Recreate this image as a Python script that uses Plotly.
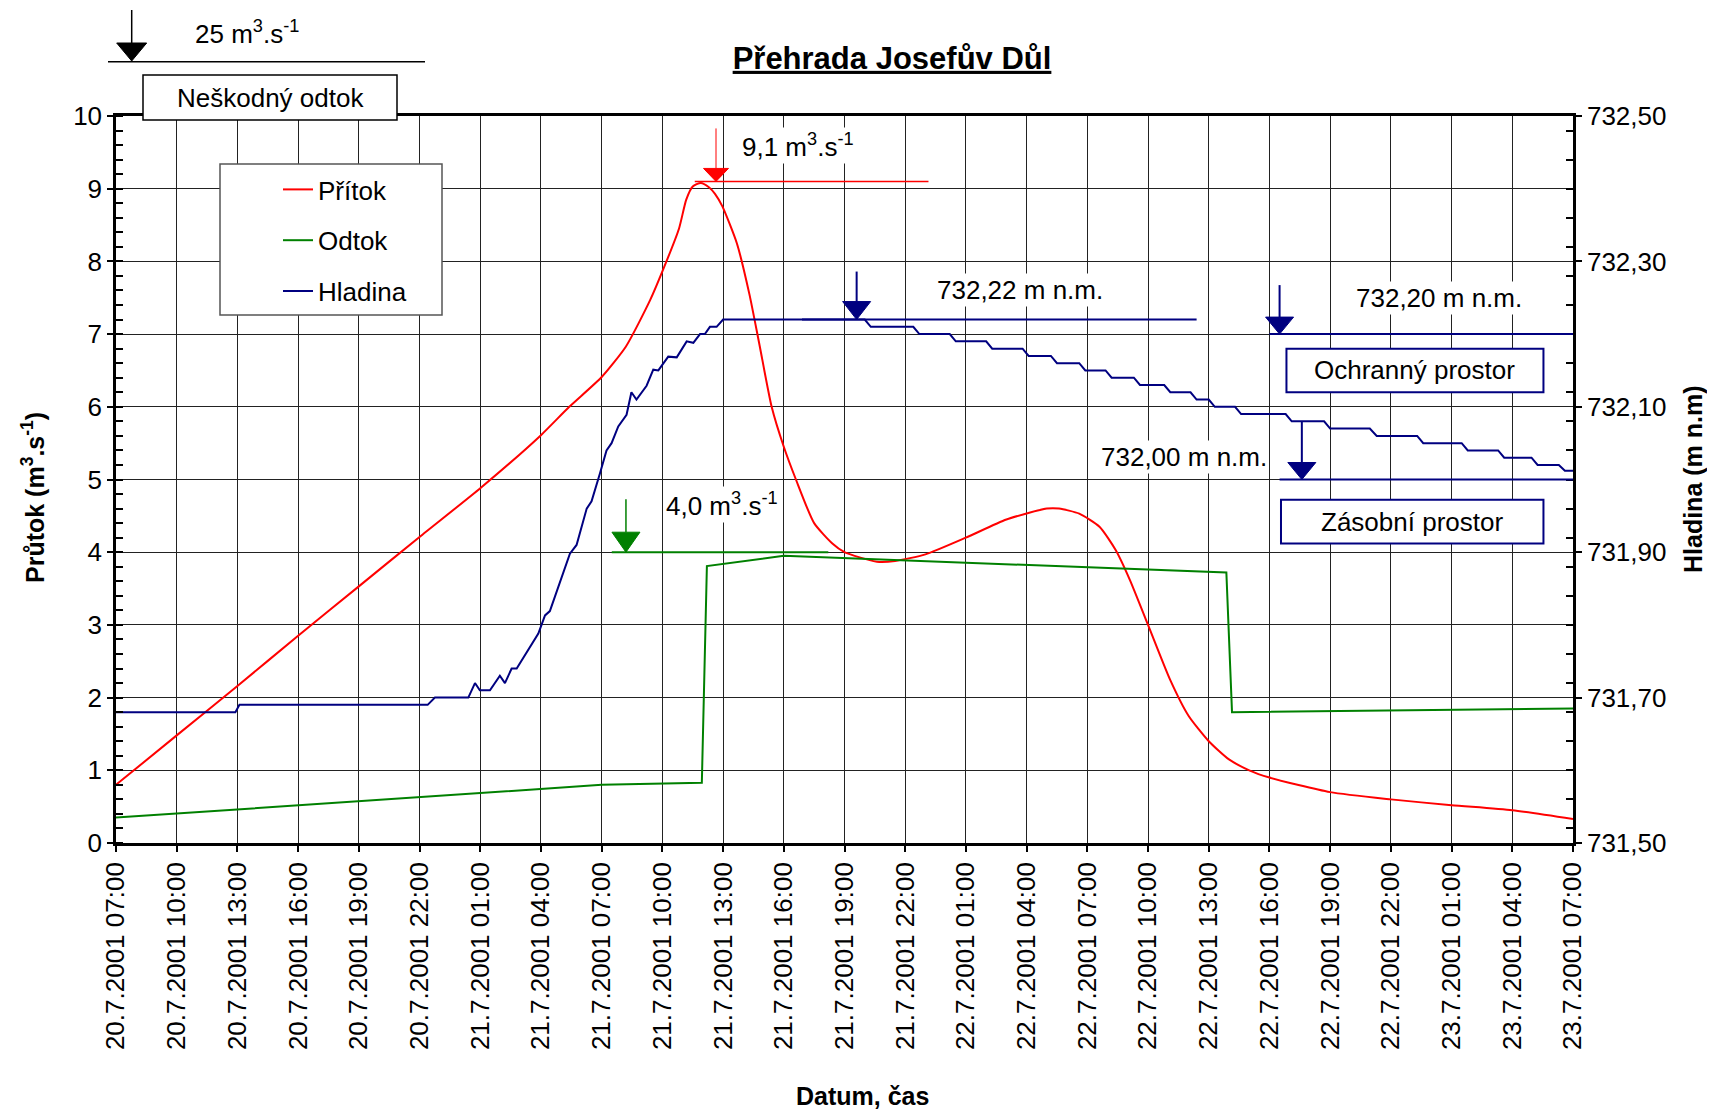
import plotly.graph_objects as go
import pandas as pd

# ---------------- data ----------------
START = pd.Timestamp("2001-07-20 07:00")

# Přítok (inflow) [m3/s], time in hours since 20.7.2001 07:00
pritok_h = [0, 3, 6, 9, 12, 15, 18, 21, 22.4, 24, 25.2, 26.4, 27.1, 27.82, 28.18, 28.5,
            28.9, 29.3, 29.6, 29.96, 30.68, 31.3, 31.8, 32.4, 33.0, 33.6, 34.5, 35.4,
            36.0, 36.5, 37.6, 38.5, 40, 42, 44, 46, 46.6, 47.6, 48.6, 49.4, 50.1, 51.0,
            52.1, 53, 54, 55, 56, 57, 60, 63, 66, 69, 72]
pritok_q = [0.80, 1.48, 2.16, 2.85, 3.53, 4.21, 4.88, 5.61, 6.0, 6.41, 6.83, 7.47, 7.93, 8.45, 8.85, 9.03,
            9.08, 9.02, 8.93, 8.76, 8.25, 7.55, 6.85, 6.0, 5.45, 5.0, 4.4, 4.12,
            4.0, 3.95, 3.87, 3.88, 3.97, 4.2, 4.45, 4.6, 4.6, 4.53, 4.35, 4.03, 3.62, 3.0,
            2.24, 1.75, 1.4, 1.15, 1.0, 0.9, 0.7, 0.6, 0.52, 0.45, 0.33]

# Odtok (outflow) [m3/s]
odtok_h = [0, 24, 28.95, 29.2, 33, 54.87, 55.15, 72]
odtok_q = [0.35, 0.80, 0.83, 3.81, 3.95, 3.72, 1.80, 1.85]

# Hladina (water level) [m n.m.]
hladina_h = [0, 5.9, 6.1, 15.4, 15.76, 17.41, 17.74, 17.98, 18.48, 18.97, 19.22, 19.55, 19.8,
             20.87, 21.2, 21.44, 22.43, 22.76, 23.26, 23.5, 23.91, 24.24, 24.49, 24.82,
             25.23, 25.47, 25.72, 26.22, 26.55, 26.8, 27.29, 27.71, 28.2, 28.53, 28.86,
             29.1, 29.35, 29.68, 30.0, 37.0, 37.3, 39.4, 39.7, 41.2, 41.5, 43.0, 43.3,
             44.8, 45.1, 46.2, 46.5, 47.6, 47.9, 48.9, 49.2, 50.3, 50.6, 51.8, 52.1,
             53.1, 53.4, 54.0, 54.3, 55.3, 55.6, 57.8, 58.1, 59.7, 60.0, 61.96, 62.3,
             64.3, 64.6, 66.5, 66.8, 68.3, 68.6, 69.95, 70.25, 71.3, 71.6, 72]
hladina_m = [731.68, 731.68, 731.69, 731.69, 731.70, 731.70, 731.72, 731.71, 731.71, 731.73, 731.72, 731.74, 731.74,
             731.788, 731.813, 731.819, 731.898, 731.91, 731.96, 731.97, 732.008, 732.04, 732.05, 732.073,
             732.089, 732.12, 732.11, 732.129, 732.151, 732.15, 732.169, 732.168, 732.19, 732.188, 732.20,
             732.20, 732.21, 732.21, 732.22, 732.22, 732.21, 732.21, 732.20, 732.20, 732.19, 732.19, 732.18,
             732.18, 732.17, 732.17, 732.16, 732.16, 732.15, 732.15, 732.14, 732.14, 732.13, 732.13, 732.12,
             732.12, 732.11, 732.11, 732.10, 732.10, 732.09, 732.09, 732.08, 732.08, 732.07, 732.07, 732.06,
             732.06, 732.05, 732.05, 732.04, 732.04, 732.03, 732.03, 732.02, 732.02, 732.012, 732.012]

# key values marked on the chart
NESKODNY = 25          # m3/s
PEAK_IN = 9.1          # m3/s
PEAK_OUT = 4.0         # m3/s
MAX_LEVEL = 732.22     # m n.m.
OCHRANNY_LEVEL = 732.20
ZASOBNI_LEVEL = 732.00

# ---------------- layout geometry (page pixels) ----------------
OFF = 8                       # default page body margin
W, H = 1715 - 2 * OFF, 1112 - OFF
PL, PR, PT, PB = 116, 1573, 116, 843   # plot area on the page
PW, PH = PR - PL, PB - PT
ML, MT = PL - OFF, PT - OFF
MR = W - (PR - OFF)
MB = H - (PB - OFF)
FONT = "Liberation Sans, Arial, sans-serif"
FS = 26
NAVY, RED, GREEN = "#000080", "#FF0000", "#008000"


def t(h):
    return (START + pd.Timedelta(hours=h)).strftime("%Y-%m-%d %H:%M:%S")


def px(p):
    return (p - PL) / PW


def py(p):
    return (PB - p) / PH


fig = go.Figure()
fig.add_trace(go.Scatter(x=[t(h) for h in pritok_h], y=pritok_q, name="Přítok", mode="lines",
                         line=dict(color=RED, width=2, shape="spline", smoothing=0.6),
                         legendgroup="a", yaxis="y"))
fig.add_trace(go.Scatter(x=[t(h) for h in odtok_h], y=odtok_q, name="Odtok", mode="lines",
                         line=dict(color=GREEN, width=2), legendgroup="b", yaxis="y"))
fig.add_trace(go.Scatter(x=[t(h) for h in hladina_h], y=hladina_m, name="Hladina", mode="lines",
                         line=dict(color=NAVY, width=2), legendgroup="c", yaxis="y2"))

shapes = []
annotations = []


def arrow(xref, x, yref, y, shaft, head_h, head_w, color, lw):
    shapes.append(dict(type="line", xref=xref, yref=yref, xsizemode="pixel", ysizemode="pixel",
                       xanchor=x, yanchor=y, x0=0, x1=0, y0=head_h, y1=shaft,
                       line=dict(color=color, width=lw), layer="above"))
    shapes.append(dict(type="path", xref=xref, yref=yref, xsizemode="pixel", ysizemode="pixel",
                       xanchor=x, yanchor=y,
                       path=f"M {-head_w / 2},{head_h} L {head_w / 2},{head_h} L 0,0 Z",
                       fillcolor=color, line=dict(color=color, width=1), layer="above"))


def hline(xref, x0, x1, yref, y, color, lw):
    shapes.append(dict(type="line", xref=xref, yref=yref, x0=x0, x1=x1, y0=y, y1=y,
                       line=dict(color=color, width=lw), layer="above"))


def box(xref, x0, x1, yref, y0, y1, color, lw):
    shapes.append(dict(type="rect", xref=xref, yref=yref, x0=x0, x1=x1, y0=y0, y1=y1,
                       line=dict(color=color, width=lw), fillcolor="white", layer="above"))


def label(xref, x, yref, y, text, bg=True, size=FS, angle=0):
    annotations.append(dict(xref=xref, yref=yref, x=x, y=y, text=text, showarrow=False,
                            font=dict(family=FONT, size=size, color="black"),
                            bgcolor="white" if bg else "rgba(0,0,0,0)", textangle=angle,
                            xanchor="center", yanchor="middle"))


# legend frame
box("paper", px(220), px(442), "paper", py(315), py(164), "#555555", 1.5)

# harmless outflow (top left, outside the plot)
hline("paper", px(108), px(425), "paper", py(61.7), "black", 1.5)
arrow("paper", px(131.7), "paper", py(61), 51, 18, 30, "black", 1.5)
label("paper", px(247), "paper", py(32), f"{NESKODNY} m<sup>3</sup>.s<sup>-1</sup>", bg=False)
box("paper", px(143), px(397), "paper", py(120), py(75), "black", 1.5)
label("paper", px(270), "paper", py(97.5), "Neškodný odtok", bg=False)

# peak inflow
hline("x", t(28.6), t(40.15), "y", PEAK_IN, RED, 1.5)
arrow("x", t(29.65), "y", PEAK_IN, 53, 13, 25, RED, 1)
label("x", t(33.7), "y", 9.59, f"{str(PEAK_IN).replace('.', ',')} m<sup>3</sup>.s<sup>-1</sup>")

# peak outflow
hline("x", t(24.5), t(35.2), "y", PEAK_OUT, GREEN, 2)
arrow("x", t(25.2), "y", PEAK_OUT, 53, 20, 28, GREEN, 1.5)
label("x", t(29.95), "y", 4.65, f"{str(PEAK_OUT).replace('.', ',')} m<sup>3</sup>.s<sup>-1</sup>")

# max level
hline("x", t(33.9), t(53.4), "y2", MAX_LEVEL, NAVY, 2)
arrow("x", t(36.6), "y2", MAX_LEVEL, 48, 18, 28, NAVY, 2)
label("x", t(44.65), "y2", 732.261, f"{MAX_LEVEL:.2f}".replace(".", ",") + " m n.m.")

# flood-control space limit
hline("x", t(57.0), t(72), "y2", OCHRANNY_LEVEL, NAVY, 2)
arrow("x", t(57.5), "y2", OCHRANNY_LEVEL, 49, 17, 28, NAVY, 2)
label("x", t(65.4), "y2", 732.249, f"{OCHRANNY_LEVEL:.2f}".replace(".", ",") + " m n.m.")
box("x", t(57.84), t(70.54), "y2", 732.12, 732.18, NAVY, 2)
label("x", t(64.19), "y2", 732.15, "Ochranný prostor", bg=False)

# storage space limit
hline("x", t(57.5), t(72), "y2", ZASOBNI_LEVEL, NAVY, 2)
arrow("x", t(58.6), "y2", ZASOBNI_LEVEL, 58, 17, 28, NAVY, 2)
label("x", t(52.8), "y2", 732.031, f"{ZASOBNI_LEVEL:.2f}".replace(".", ",") + " m n.m.")
box("x", t(57.57), t(70.54), "y2", 731.912, 731.972, NAVY, 2)
label("x", t(64.05), "y2", 731.942, "Zásobní prostor", bg=False)

# axis titles
label("paper", px(863), "paper", py(1096), "<b>Datum, čas</b>", bg=False, size=25)
label("paper", px(33), "paper", py(498), "<b>Průtok (m<sup>3</sup>.s<sup>-1</sup>)</b>",
      bg=False, size=25, angle=-90)
label("paper", px(1693), "paper", py(479), "<b>Hladina (m n.m)</b>", bg=False, size=25, angle=-90)

XR = [t(0), t(72)]
XDT = 3 * 3600 * 1000

fig.update_layout(
    width=W, height=H,
    margin=dict(l=ML, r=MR, t=MT, b=MB, autoexpand=False),
    paper_bgcolor="white", plot_bgcolor="white",
    separators=", ",
    font=dict(family=FONT, size=FS, color="black"),
    title=dict(text="<b><u>Přehrada Josefův Důl</u></b>", x=(892 - OFF) / W, xanchor="center",
               y=1 - (58 - OFF) / H, yanchor="middle", font=dict(size=31, family=FONT, color="black")),
    showlegend=True,
    legend=dict(x=px(278), y=py(166), xanchor="left", yanchor="top",
                bgcolor="rgba(0,0,0,0)", borderwidth=0, traceorder="grouped",
                tracegroupgap=14, font=dict(size=FS, family=FONT, color="black")),
    xaxis=dict(type="date", range=XR, tick0=t(0), dtick=XDT,
               tickformat="%-d.%-m.%Y %H:%M", tickangle=-90,
               ticks="outside", ticklen=6, tickwidth=2, tickcolor="black",
               showline=True, linecolor="black", linewidth=2.5, mirror=True,
               showgrid=True, gridcolor="#222222", gridwidth=1, zeroline=False,
               tickfont=dict(size=FS)),
    # inner halves of the crossing major ticks
    xaxis2=dict(type="date", range=XR, tick0=t(0), dtick=XDT, overlaying="x", side="bottom",
                anchor="y", ticks="inside", ticklen=6, tickwidth=2, tickcolor="black",
                showticklabels=False, showline=False, showgrid=False, zeroline=False),
    yaxis=dict(range=[0, 10], dtick=1, tick0=0,
               ticks="outside", ticklen=6, tickwidth=2, tickcolor="black",
               minor=dict(dtick=0.2, ticks="inside", ticklen=7, tickwidth=1.5, tickcolor="black",
                          showgrid=False),
               showline=True, linecolor="black", linewidth=2.5,
               showgrid=True, gridcolor="#222222", gridwidth=1, zeroline=False,
               tickfont=dict(size=FS)),
    yaxis3=dict(range=[0, 10], dtick=1, tick0=0, overlaying="y", side="left", anchor="x",
                ticks="inside", ticklen=10, tickwidth=2, tickcolor="black",
                showticklabels=False, showline=False, showgrid=False, zeroline=False),
    yaxis2=dict(overlaying="y", side="right", range=[731.5, 732.5], dtick=0.2, tick0=731.5,
                tickformat=".2f", anchor="x",
                ticks="outside", ticklen=6, tickwidth=2, tickcolor="black",
                minor=dict(dtick=0.04, ticks="inside", ticklen=7, tickwidth=1.5, tickcolor="black",
                           showgrid=False),
                showline=True, linecolor="black", linewidth=2.5,
                showgrid=False, zeroline=False, tickfont=dict(size=FS)),
    yaxis4=dict(overlaying="y", side="right", range=[731.5, 732.5], dtick=0.2, tick0=731.5,
                anchor="x", ticks="inside", ticklen=10, tickwidth=2, tickcolor="black",
                showticklabels=False, showline=False, showgrid=False, zeroline=False),
    shapes=shapes,
    annotations=annotations,
)

fig.write_html("out.html")
